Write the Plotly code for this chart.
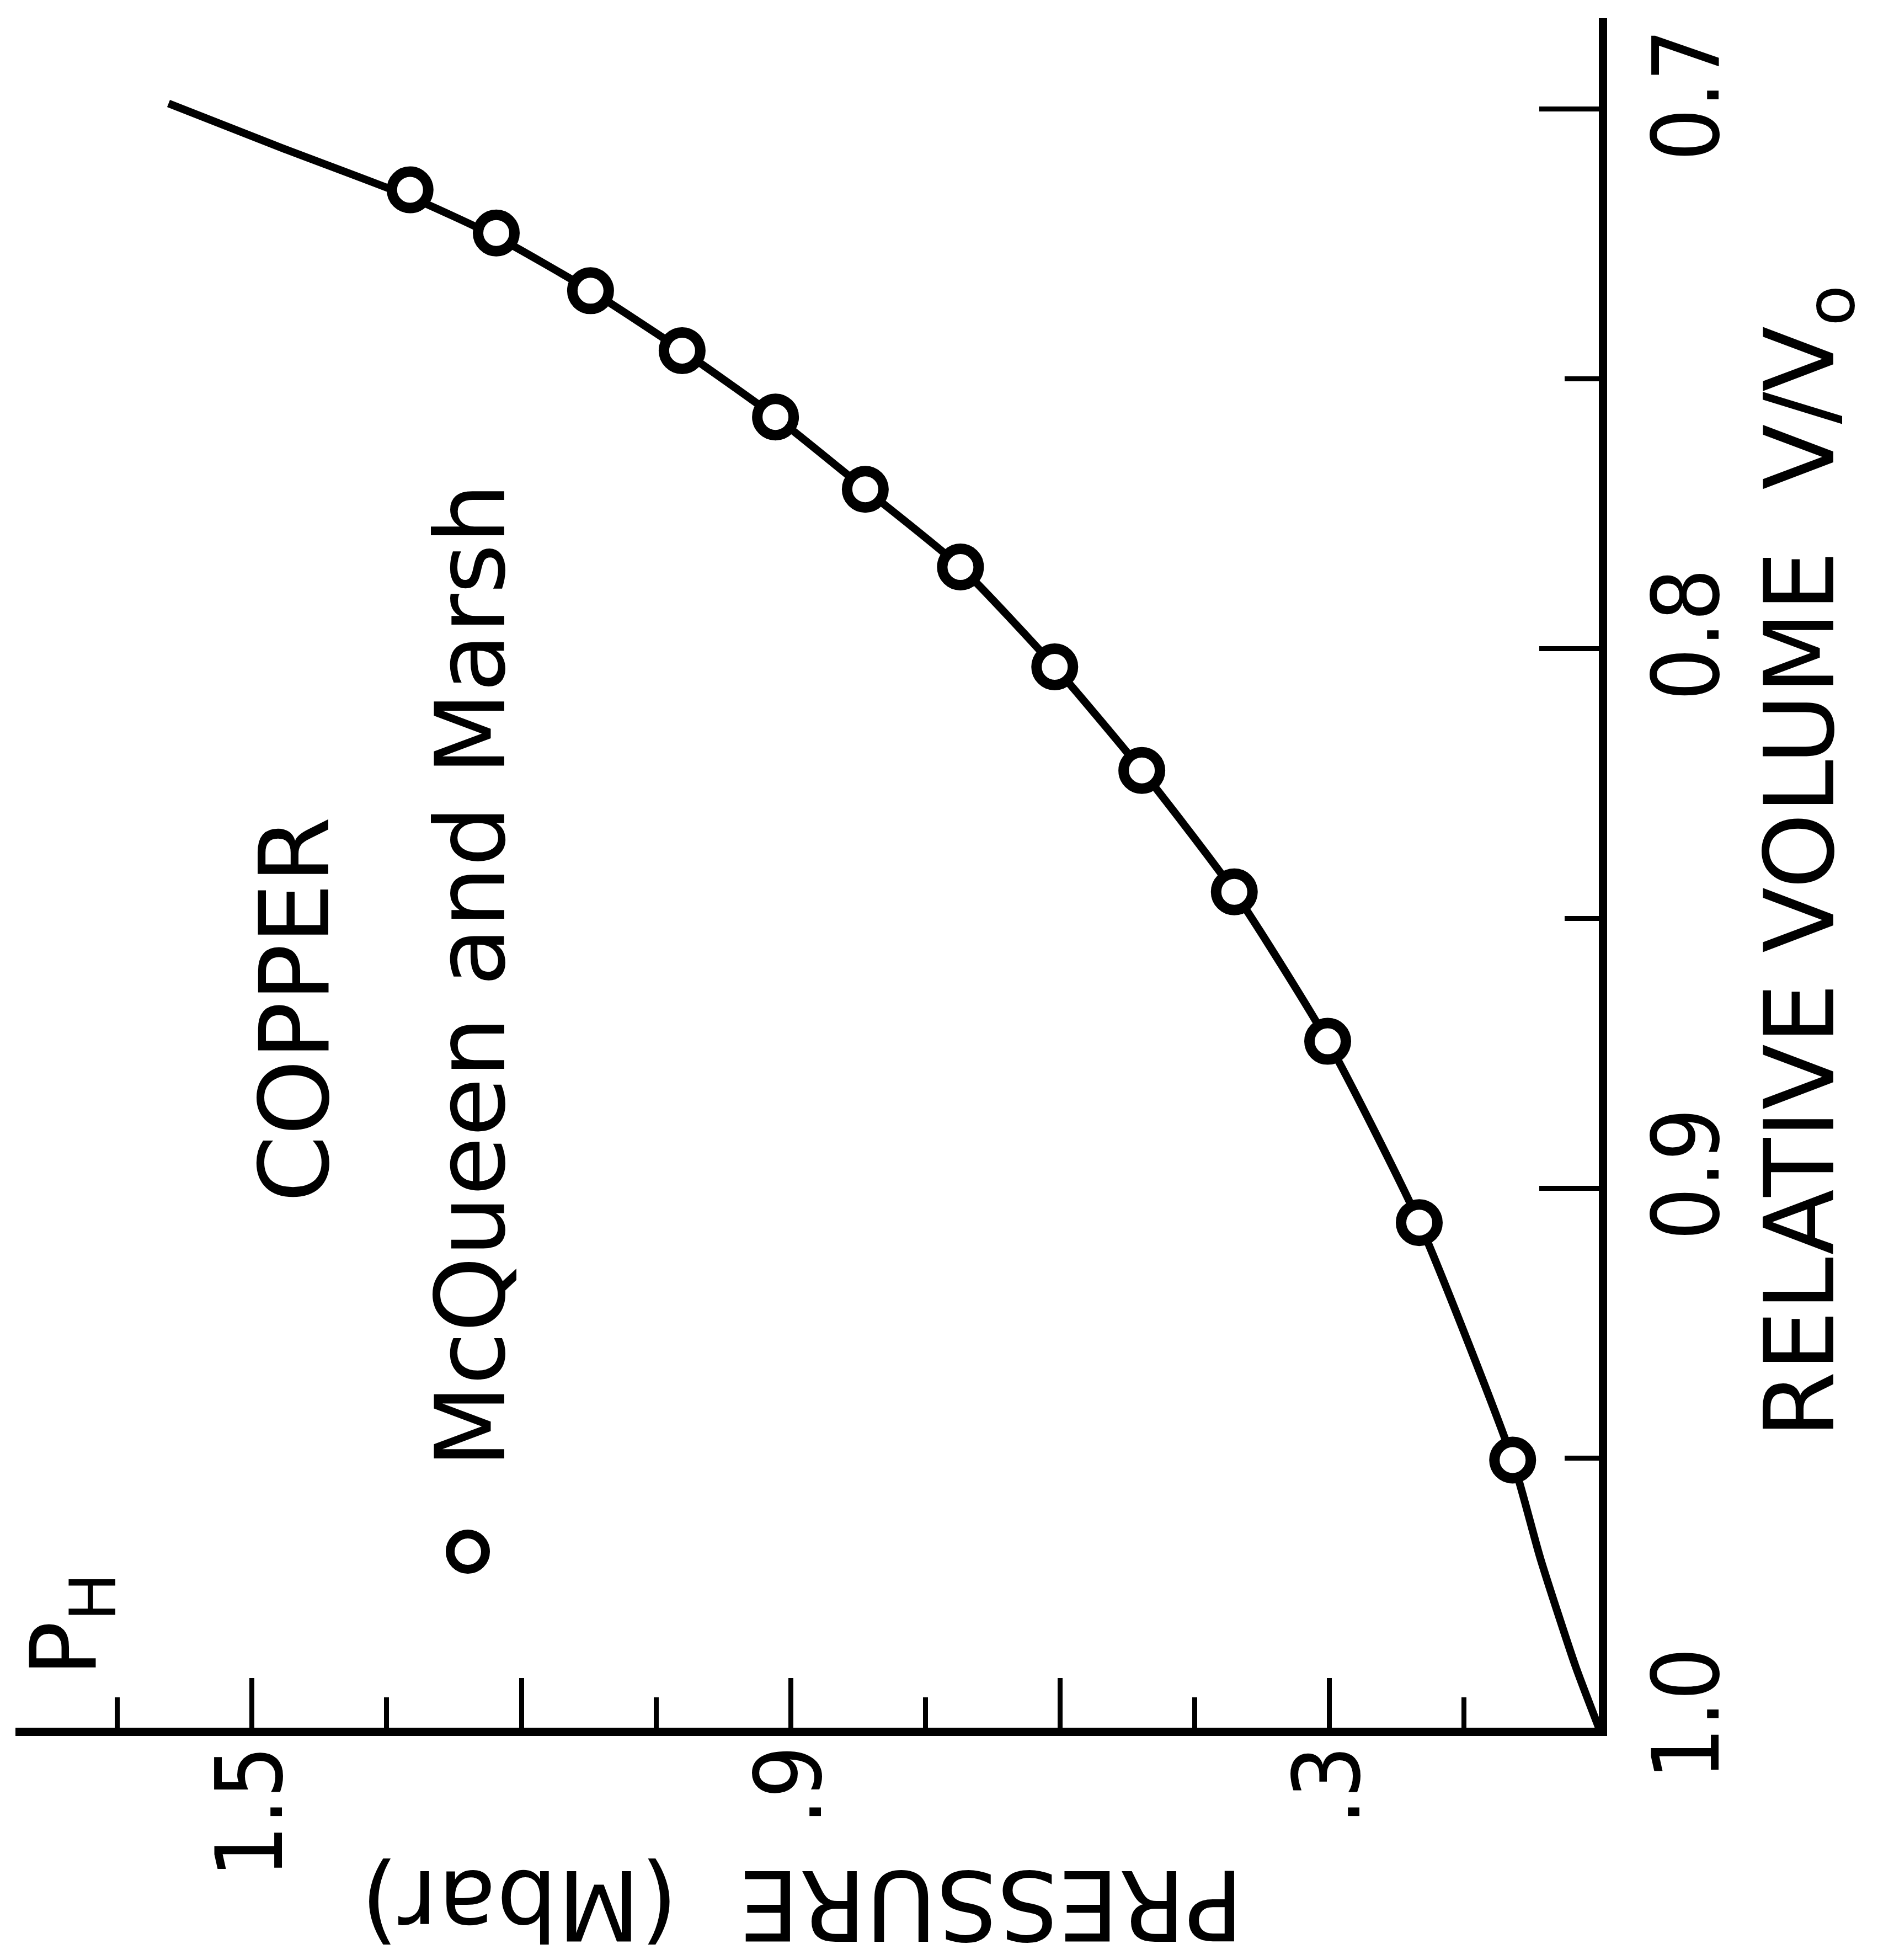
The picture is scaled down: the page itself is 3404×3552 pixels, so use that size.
import plotly.graph_objects as go

# ---- data ----
# McQueen and Marsh data points: shock pressure (Mbar) vs relative volume
pressure_pts = [1.324, 1.228, 1.123, 1.021, 0.917, 0.817, 0.711, 0.606, 0.509, 0.406, 0.302, 0.200, 0.096]
volume_pts = [0.715, 0.723, 0.7337, 0.7448, 0.7571, 0.7705, 0.7849, 0.8034, 0.8226, 0.8451, 0.8728, 0.9064, 0.9504]

# Hugoniot curve
pressure_curve = [0.0, 0.026, 0.065, 0.096, 0.200, 0.302, 0.406, 0.509, 0.606, 0.711, 0.817, 0.917,
                  1.021, 1.123, 1.228, 1.324, 1.469, 1.593]
volume_curve = [1.0, 0.9886, 0.9687, 0.9504, 0.9064, 0.8728, 0.8451, 0.8226, 0.8034, 0.7849, 0.7705, 0.7571,
                0.7448, 0.7337, 0.7237, 0.7163, 0.7071, 0.6990]

# ticks
p_major = [0.0, 0.3, 0.6, 0.9, 1.2, 1.5]
p_major_text = ["", ".3", "", ".9", "", "1.5"]
p_minor = [0.15, 0.45, 0.75, 1.05, 1.35, 1.65]
v_major = [0.7, 0.8, 0.9, 1.0]
v_major_text = ["0.7", "0.8", "0.9", "1.0"]
v_minor = [0.75, 0.85, 0.95]

# ---- layout geometry (pixels) ----
W, H = 3404, 3552
L, R, T, B = 28, 2898, 33, 3131

def px(x):
    return (x - L) / (R - L)

def py(y):
    return (B - y) / (B - T)

FONT = "DejaVu Sans"
TICKFONT = "DejaVu Sans Condensed, DejaVu Sans"
FS = 174
TFS = 168

fig = go.Figure()
fig.add_trace(go.Scatter(x=pressure_curve, y=volume_curve, mode="lines",
                         line=dict(color="black", width=14, shape="spline", smoothing=0.6),
                         hoverinfo="skip", showlegend=False))
fig.add_trace(go.Scatter(x=pressure_pts, y=volume_pts, mode="markers",
                         marker=dict(symbol="circle", size=66, color="white",
                                     line=dict(color="black", width=19)),
                         showlegend=False))

fig.update_layout(
    width=W, height=H,
    margin=dict(l=L, r=W - R, t=T, b=H - B),
    paper_bgcolor="white", plot_bgcolor="white",
    font=dict(family=FONT, size=FS, color="black"),
    showlegend=False,
)

fig.update_xaxes(
    range=[1.7635, 0.0], showgrid=False, zeroline=False,
    showline=True, linecolor="black", linewidth=15,
    tickmode="array", tickvals=p_major, ticktext=p_major_text,
    ticks="inside", ticklen=90, tickwidth=9, tickcolor="black",
    tickangle=-90, tickfont=dict(family=TICKFONT, size=TFS, color="black"),
    ticklabelstandoff=-50,
    minor=dict(tickmode="array", tickvals=p_minor, ticks="inside", ticklen=55,
               tickwidth=9, tickcolor="black", showgrid=False),
)
fig.update_yaxes(
    range=[1.0, 0.6832], side="right", showgrid=False, zeroline=False,
    showline=True, linecolor="black", linewidth=15,
    tickmode="array", tickvals=v_major, ticktext=v_major_text,
    ticks="inside", ticklen=108, tickwidth=9, tickcolor="black",
    tickangle=-90, tickfont=dict(family=TICKFONT, size=TFS, color="black"),
    minor=dict(tickmode="array", tickvals=v_minor, ticks="inside", ticklen=62,
               tickwidth=9, tickcolor="black", showgrid=False),
)

ann = dict(xref="paper", yref="paper", showarrow=False, xanchor="center", yanchor="middle",
           font=dict(family=FONT, size=FS, color="black"))

fig.add_annotation(text="RELATIVE VOLUME  V/V<sub>o</sub>", x=px(3275), y=py(1561), textangle=-90, **ann)
fig.add_annotation(text="PRESSURE  (Mbar)", x=px(1454), y=py(3452), textangle=180, **ann)
fig.add_annotation(text="P<sub>H</sub>", x=px(128), y=py(2945), textangle=-90,
                   xref="paper", yref="paper", showarrow=False, xanchor="center", yanchor="middle",
                   font=dict(family=FONT, size=166, color="black"))
fig.add_annotation(text="COPPER", x=px(534), y=py(1830), textangle=-90, **ann)
fig.add_annotation(text="McQueen and Marsh", x=px(853), y=py(1768), textangle=-90, **ann)

# legend symbol
fig.add_shape(type="circle", xref="paper", yref="paper", xsizemode="pixel", ysizemode="pixel",
              xanchor=px(848), yanchor=py(2812), x0=-32, x1=32, y0=-32, y1=32,
              line=dict(color="black", width=16), fillcolor="white")

fig.write_html("out.html")
